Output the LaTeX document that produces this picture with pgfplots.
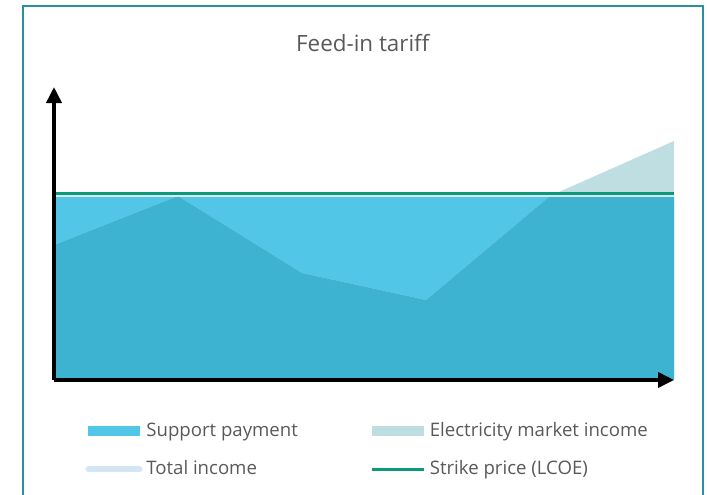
\documentclass[border=0pt]{standalone}
\usepackage{fontspec}
\setmainfont{Open Sans}
\usepackage{pgfplots}
\pgfplotsset{compat=1.18}
\usetikzlibrary{arrows.meta}
\definecolor{supp}{HTML}{52C6E7}
\definecolor{mkt}{HTML}{BFDEE2}
\definecolor{darkb}{HTML}{3DB2D1}
\definecolor{tot}{HTML}{D4E6F3}
\definecolor{strike}{HTML}{0A9A78}
\definecolor{framec}{HTML}{2A8FA2}
\definecolor{txt}{HTML}{595959}
\begin{document}
\begin{tikzpicture}
\useasboundingbox (0pt,0pt) rectangle (353.5pt,247pt);
\draw[framec, line width=1.2pt] (11.5pt,-3pt) -- (11.5pt,244pt) -- (351.5pt,244pt) -- (351.5pt,-3pt);
\begin{axis}[
  at={(27pt,57pt)}, anchor=south west,
  scale only axis, width=310pt, height=146.5pt,
  xmin=0, xmax=5, ymin=0, ymax=293,
  axis lines=left,
  axis line style={line width=1.8pt, -{Triangle[length=8pt,width=7.5pt]}},
  ticks=none,
  axis on top,
  clip=false,
  title={Feed-in tariff},
  title style={at={(0.498,1.109)}, anchor=center, font=\fontsize{11.2}{13}\selectfont, text=txt},
  legend columns=2,
  legend cell align=left,
  legend style={draw=none, fill=none, at={(0.0403,-0.1163)}, anchor=north west,
    font=\fontsize{9.3}{11}\selectfont, text=txt, row sep=6.5pt,
    /tikz/every even column/.append style={column sep=34.5pt}},
]
\addplot[draw=none, fill=supp,
  legend image code/.code={\fill[supp] (0pt,-2.5pt) rectangle (26pt,2.5pt);}]
  coordinates {(0,184) (5,184)} \closedcycle;
\addlegendentry{Support payment}
\addplot[draw=none, fill=mkt,
  legend image code/.code={\fill[mkt] (0pt,-2.5pt) rectangle (26pt,2.5pt);}]
  coordinates {(0,135) (1,184) (2,107) (3,80) (4,184) (5,239)} \closedcycle;
\addlegendentry{Electricity market income}
\addplot[draw=none, fill=darkb, forget plot]
  coordinates {(0,135) (1,184) (2,107) (3,80) (4,184) (5,184)} \closedcycle;
\addplot[tot, line width=1.5pt,
  legend image code/.code={\draw[tot, line width=3pt, line cap=round] (0pt,0pt) -- (25.5pt,0pt);}]
  coordinates {(-0.01,184.3) (5,184.3)};
\addlegendentry{Total income}
\addplot[strike, line width=1.5pt,
  legend image code/.code={\draw[strike, line width=1.5pt] (0pt,0pt) -- (26pt,0pt);}]
  coordinates {(-0.01,186.8) (5,186.8)};
\addlegendentry{Strike price (LCOE)}
\end{axis}
\end{tikzpicture}
\end{document}
